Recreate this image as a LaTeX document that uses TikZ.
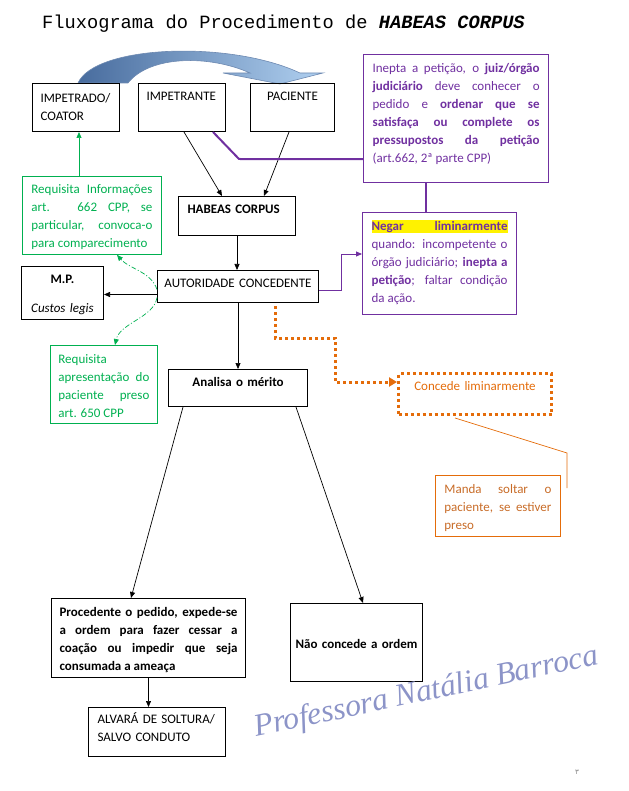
\documentclass[tikz,border=0pt]{standalone}
\usepackage{fontspec}
\setmainfont{Carlito}
\newfontfamily\titlefont{Liberation Mono}
\newfontfamily\markfont{Liberation Serif}
\newfontfamily\arabicfont[Script=Arabic]{DejaVu Sans}
\TeXXeTstate=1
\usetikzlibrary{calc,arrows.meta}

\newcommand\boxfont{\fontsize{13}{18}\selectfont}

\definecolor{hcpurple}{RGB}{112,48,160}
\definecolor{hcgreen}{RGB}{0,176,80}
\definecolor{hcorange}{RGB}{228,108,10}
\definecolor{hcbrown}{RGB}{200,108,40}
\definecolor{hcdark}{RGB}{72,108,158}
\definecolor{hclight}{RGB}{176,208,240}
\definecolor{hcmark}{RGB}{140,148,200}

\tikzset{
  box/.style={draw,rectangle,anchor=north west,inner xsep=9pt,inner ysep=0pt,line width=1pt},
  boldbox/.style={box,font=\boxfont\bfseries},
  purplebox/.style={box,draw=hcpurple,text=hcpurple,line width=1.2pt,align=justify},
  greenbox/.style={box,draw=hcgreen,text=hcgreen,line width=0.8pt,align=justify},
  link/.style={-{Triangle[length=6pt,width=5pt]},line width=0.7pt},
  greenlink/.style={link,draw=hcgreen},
  greencurve/.style={greenlink,dash pattern=on 5pt off 2pt on 1pt off 2pt},
  purplelink/.style={link,draw=hcpurple,line width=0.9pt},
  orangedots/.style={draw=hcorange,line width=3pt,dash pattern=on 3pt off 3pt},
}

\begin{document}
\begin{tikzpicture}[x=1pt,y=-1pt,font=\boxfont]
  \useasboundingbox (0,0) rectangle (628,791);
  \node[anchor=base west,inner sep=0pt,font=\titlefont\fontsize{18.7}{20}\selectfont] (title) at (42,29)
    {Fluxograma do Procedimento de \textbf{\textit{HABEAS CORPUS}}};

  \shadedraw[left color=hcdark,right color=hclight,draw=hcdark!80,line width=0.6pt]
    (78,83) .. controls (95,45) and (230,40) .. (300,73) -- (323,73) -- (280,84) -- (223,73)
    -- (250,73) .. controls (210,55) and (150,55) .. (128,83) -- cycle;

  \node[box,minimum width=87pt,minimum height=48pt,inner xsep=8pt,text width=71pt,text height=19pt,text depth=29pt,align=left] (impetrado) at (32,83) {IMPETRADO/\\COATOR};
  \node[box,minimum width=87pt,minimum height=48pt,inner xsep=8pt,text width=71pt,text height=17pt,text depth=31pt,align=left] (impetrante) at (138,83) {IMPETRANTE};
  \node[box,minimum width=84pt,minimum height=48pt,text width=66pt,text height=17pt,text depth=31pt,align=center] (paciente) at (250,83) {PACIENTE};
  \node[purplebox,minimum width=185pt,minimum height=128pt,text width=167pt,text height=18pt,text depth=110pt] (inepta) at (363,54)
    {Inepta a petição, o \textbf{juiz/órgão}\linebreak \textbf{judiciário} deve conhecer o\linebreak pedido e \textbf{ordenar que se}\linebreak
     \textbf{satisfaça ou complete os}\linebreak \textbf{pressupostos da petição}\linebreak (art.662, 2ª parte CPP)};
  \node[purplebox,minimum width=154pt,minimum height=102pt,text width=136pt,text height=18pt,text depth=84pt] (negar) at (362,212)
    {{\fboxsep=0pt\colorbox{yellow}{\makebox[\linewidth][s]{\rule[-2pt]{0pt}{13pt}\textbf{Negar} \textbf{liminarmente}}}}\newline
     quando: incompetente o\linebreak órgão judiciário; \textbf{inepta a}\linebreak \textbf{petição}; faltar condição\linebreak da ação.};
  \node[greenbox,minimum width=139pt,minimum height=78pt,text width=121pt,text height=17pt,text depth=61pt] (requisita) at (22,176)
    {Requisita Informações\linebreak art. 662 CPP, se\linebreak particular, convoca-o\linebreak para comparecimento};
  \node[boldbox,minimum width=117pt,minimum height=39pt,text width=99pt,text height=17pt,text depth=22pt,align=left] (habeas) at (178,196) {HABEAS CORPUS};
  \node[box,minimum width=161pt,minimum height=32pt,inner xsep=6pt,text width=149pt,text height=17pt,text depth=15pt,align=center] (autoridade) at (157,270) {AUTORIDADE CONCEDENTE};
  \node[box,minimum width=82pt,minimum height=53pt,text width=64pt,text height=17pt,text depth=36pt,align=center] (mp) at (21,266) {\textbf{M.P.}\\[11pt]\textit{Custos legis}};
  \node[greenbox,minimum width=107pt,minimum height=78pt,inner xsep=8pt,text width=91pt,text height=18pt,text depth=60pt] (apresentacao) at (50,345)
    {Requisita\newline apresentação do\linebreak paciente preso\linebreak art. 650 CPP};
  \node[boldbox,minimum width=139pt,minimum height=37pt,text width=121pt,text height=17pt,text depth=20pt,align=center] (merito) at (168,369) {Analisa o mérito};
  \node[box,orangedots,text=hcorange,minimum width=153pt,minimum height=41pt,text width=135pt,text height=17pt,text depth=24pt,align=center] (concede) at (397,372) {Concede liminarmente};
  \node[box,draw=hcorange,text=hcbrown,line width=0.8pt,minimum width=125pt,minimum height=61pt,text width=107pt,text height=18pt,text depth=43pt,align=justify] (manda) at (435,475)
    {Manda soltar o\linebreak paciente, se estiver\linebreak preso};
  \node[boldbox,minimum width=194pt,minimum height=79pt,inner xsep=8pt,text width=178pt,text height=18pt,text depth=61pt,align=justify] (procedente) at (51,598)
    {Procedente o pedido, expede-se\linebreak a ordem para fazer cessar a\linebreak coação ou impedir que seja\linebreak consumada a ameaça};
  \node[boldbox,minimum width=132pt,minimum height=78pt,inner xsep=4pt,text width=124pt,text height=45pt,text depth=33pt,align=center] (naoconcede) at (290,603) {Não concede a ordem};
  \node[box,minimum width=137pt,minimum height=49pt,text width=119pt,text height=16pt,text depth=33pt,align=left] (alvara) at (88,707) {ALVARÁ DE SOLTURA/\\SALVO CONDUTO};

  \draw[link]
    ($(impetrante.south west)+(46,0)$) -- ($(habeas.north west)+(44,0)$);
  \draw[link]
    ($(paciente.south west)+(39,0)$) -- ($(habeas.north west)+(86,0)$);
  \draw[link] (habeas.south) -- (habeas.south |- autoridade.north);
  \draw[link] ($(autoridade.west)+(0,8)$) coordinate (mpout) -- (mpout -| mp.east);
  \draw[link] (autoridade.south) -- (autoridade.south |- merito.north);
  \draw[link] ($(merito.south west)+(15,0)$) -- ($(procedente.north west)+(80,0)$);
  \draw[link] ($(merito.south west)+(128,0)$) -- ($(naoconcede.north west)+(73,0)$);
  \draw[link] (procedente.south) -- (procedente.south |- alvara.north);

  \draw[greenlink] ($(requisita.north west)+(57,0)$) coordinate (reqout) -- (reqout |- impetrado.south);
  \draw[greencurve] ($(autoridade.west)+(0,3)$) .. controls +(-6,-18) and +(12,14) .. ($(requisita.south west)+(95,0)$);
  \draw[greencurve] ($(autoridade.west)+(0,11)$) .. controls +(-3,20) and +(5,-22) .. ($(apresentacao.north west)+(65,0)$);

  \draw[hcpurple,line width=2pt]
    ($(impetrante.south west)+(75,0)$) -- ++(26,27) -- ($(inepta.south west)+(0,-24)$);
  \draw[hcpurple,line width=1.5pt]
    ($(inepta.south west)+(63,0)$) coordinate (ineptaout) -- (ineptaout |- negar.north);
  \draw[purplelink] ($(autoridade.east)+(0,4)$) -- ++(22,0) |- ($(negar.north west)+(0,42)$);

  \draw[orangedots,-{Triangle[length=8pt,width=9pt]}]
    ($(autoridade.south west)+(118,3)$) -- ++(0,32) -- ++(60,0) |- ($(concede.north west)+(0,10)$);
  \draw[hcorange,line width=0.7pt]
    ($(concede.south west)+(58,2)$) -- ++(112,35) -- ++(0,35) coordinate (callout);

  \node[rotate=12,anchor=base west,inner sep=0pt,text=hcmark,font=\markfont\itshape\fontsize{31.5}{32}\selectfont] (mark) at (256,737) {Professora Natália Barroca};
  \node[inner sep=0pt,text=gray,font=\arabicfont\fontsize{7}{7}\selectfont] (pagenum) at (577,772) {\beginR ٣\endR};
\end{tikzpicture}
\end{document}
